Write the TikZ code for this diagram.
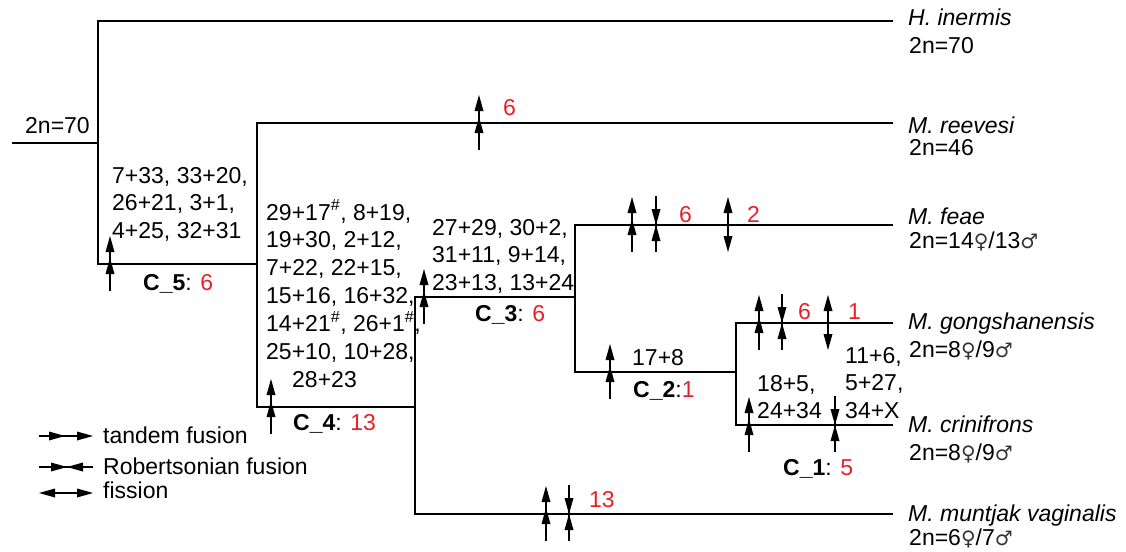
\documentclass[tikz,border=0pt]{standalone}
\usepackage{fontspec}
\setmainfont{Liberation Sans}
\newfontfamily\symfont{DejaVu Sans}
\usetikzlibrary{arrows.meta}
\definecolor{rd}{RGB}{232,32,38}
\newcommand\fem{{\symfont\fontsize{20}{20}\selectfont\color{black!80}♀}}
\newcommand\mal{{\symfont\fontsize{20}{20}\selectfont\color{black!80}♂}}
\newcommand\hs{\textsuperscript{\#}}
\newcommand\uph[2]{\fill (#1,#2) -- ++(-4.5,16) -- ++(9,0) -- cycle;}
\newcommand\dnh[2]{\fill (#1,#2) -- ++(-4.5,-16) -- ++(9,0) -- cycle;}
\newcommand\rh[2]{\fill (#1,#2) -- ++(-16,-4.5) -- ++(0,9) -- cycle;}
\newcommand\lh[2]{\fill (#1,#2) -- ++(16,-4.5) -- ++(0,9) -- cycle;}
\newcommand\tandem[2]{\draw[mk] (#1,#2+27) -- (#1,#2-20); \uph{#1}{#2-28}\uph{#1}{#2-6}}
\newcommand\robert[2]{\draw[mk] (#1,#2+27) -- (#1,#2-29); \dnh{#1}{#2}\uph{#1}{#2}}
\newcommand\fission[2]{\draw[mk] (#1,#2+20) -- (#1,#2-20); \uph{#1}{#2-28}\dnh{#1}{#2+27}}
\begin{document}
\begin{tikzpicture}[x=1pt,y=-1pt,
  br/.style={line width=1.8pt},
  mk/.style={line width=1.4pt},
  lbl/.style={inner sep=0pt,anchor=base west,font=\fontsize{23}{27.8}\selectfont},
  sp/.style={lbl,font=\fontsize{23}{27.8}\selectfont\itshape},
  num/.style={lbl,text=rd}]
\useasboundingbox (0,0) rectangle (1126,551);
% tree coordinates
\coordinate (r0) at (12,143);
\coordinate (n0) at (98,143);
\coordinate (n0t) at (98,21);
\coordinate (n0b) at (98,264);
\coordinate (n5) at (257,264);
\coordinate (n5t) at (257,123);
\coordinate (n5b) at (257,407);
\coordinate (n4) at (415,407);
\coordinate (n4t) at (415,297);
\coordinate (n4b) at (415,514);
\coordinate (n3) at (575,297);
\coordinate (n3t) at (575,225);
\coordinate (n3b) at (575,372);
\coordinate (n2) at (736,372);
\coordinate (n2t) at (736,323);
\coordinate (n2b) at (736,425);
\coordinate (lH) at (893,21);
\coordinate (lR) at (893,123);
\coordinate (lF) at (893,225);
\coordinate (lG) at (893,323);
\coordinate (lC) at (893,425);
\coordinate (lM) at (893,514);
% branches
\draw[br] (r0) -- (n0);
\draw[br] (lH) -- (n0t) -- (n0b) -- (n5);
\draw[br] (lR) -- (n5t) -- (n5b) -- (n4);
\draw[br] (n3) -- (n4t) -- (n4b) -- (lM);
\draw[br] (lF) -- (n3t) -- (n3b) -- (n2);
\draw[br] (lG) -- (n2t) -- (n2b) -- (lC);
% species labels
\node[sp] (spH) at (908,26) {H. inermis};
\node[lbl] (knH) at (909,54) {2n=70};
\node[sp] (spR) at (908,133) {M. reevesi};
\node[lbl] (knR) at (909,155) {2n=46};
\node[sp] (spF) at (908,224) {M. feae};
\node[lbl] (knF) at (909,248) {2n=14\fem/13\mal};
\node[sp] (spG) at (908,329) {M. gongshanensis};
\node[lbl] (knG) at (909,357) {2n=8\fem/9\mal};
\node[sp] (spC) at (908,432) {M. crinifrons};
\node[lbl] (knC) at (909,460) {2n=8\fem/9\mal};
\node[sp] (spM) at (908,521) {M. muntjak vaginalis};
\node[lbl] (knM) at (909,545) {2n=6\fem/7\mal};
\node[lbl] (kn0) at (25,133) {2n=70};
% event blocks
\node[lbl] (b5) at (112,183) {\begin{tabular}[t]{@{}l@{}}7+33, 33+20,\\26+21, 3+1,\\4+25, 32+31\end{tabular}};
\node[lbl] (c5) at (143,290) {\textbf{C\_5}: \textcolor{rd}{6}};
\node[lbl] (b4) at (266,220) {\begin{tabular}[t]{@{}l@{}}29+17\hs, 8+19,\\19+30, 2+12,\\7+22, 22+15,\\15+16, 16+32,\\14+21\hs, 26+1\hs,\\25+10, 10+28,\\\hspace*{26pt}28+23\end{tabular}};
\node[lbl] (c4) at (293,430) {\textbf{C\_4}: \textcolor{rd}{13}};
\node[lbl] (b3) at (432,235) {\begin{tabular}[t]{@{}l@{}}27+29, 30+2,\\31+11, 9+14,\\23+13, 13+24\end{tabular}};
\node[lbl] (c3) at (475,321) {\textbf{C\_3}: \textcolor{rd}{6}};
\node[lbl] (b2) at (632,365) {17+8};
\node[lbl] (c2) at (633,397) {\textbf{C\_2}:\textcolor{rd}{1}};
\node[lbl] (b1a) at (757,391) {\begin{tabular}[t]{@{}l@{}}18+5,\\24+34\end{tabular}};
\node[lbl] (b1b) at (845,363) {\begin{tabular}[t]{@{}l@{}}11+6,\\5+27,\\34+X\end{tabular}};
\node[lbl] (c1) at (783,475) {\textbf{C\_1}: \textcolor{rd}{5}};
% red counts
\node[num] (nR) at (503,115) {6};
\node[num] (nF1) at (679,222) {6};
\node[num] (nF2) at (747,222) {2};
\node[num] (nG1) at (798,319) {6};
\node[num] (nG2) at (848,319) {1};
\node[num] (nM) at (589,507) {13};
% markers
\tandem{110}{264}
\tandem{479}{123}
\tandem{271}{407}
\tandem{424}{297}
\tandem{632}{225}
\robert{656}{225}
\fission{728}{225}
\tandem{610}{372}
\tandem{759}{323}
\robert{782}{323}
\fission{828}{323}
\tandem{749}{425}
\robert{835}{425}
\tandem{546}{514}
\robert{569}{514}
% legend
\draw[mk] (39,436) -- (80,436); \rh{65}{436}\rh{93}{436}
\draw[mk] (39,467) -- (93,467); \rh{67}{467}\lh{67}{467}
\draw[mk] (50,493) -- (82,493); \lh{39}{493}\rh{93}{493}
\node[lbl] (lg1) at (103,443) {tandem fusion};
\node[lbl] (lg2) at (103,474) {Robertsonian fusion};
\node[lbl] (lg3) at (103,498) {fission};
\end{tikzpicture}
\end{document}
